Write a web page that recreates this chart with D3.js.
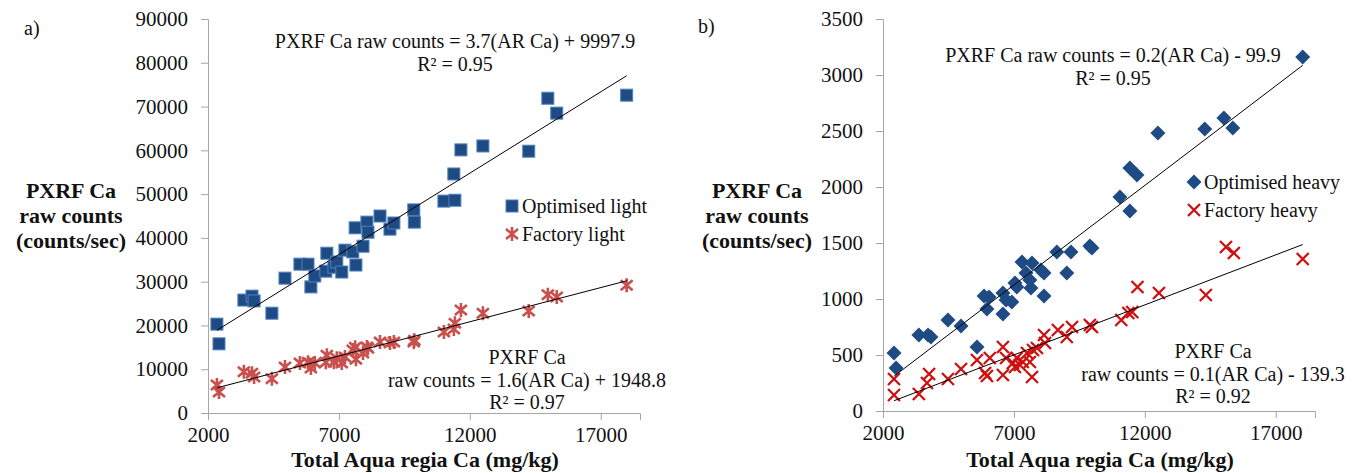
<!DOCTYPE html>
<html>
<head>
<meta charset="utf-8">
<script src="https://cdn.jsdelivr.net/npm/d3@7"></script>
<style>
  body { margin: 0; background: #fff; }
  svg text { font-family: "Liberation Serif", "Times New Roman", serif; fill: #111; }
</style>
</head>
<body>
<div id="chart"></div>
<script>
// panel a - light mode, same soil samples for both series
var arCaLight = [2340, 2420, 3370, 3680, 3760, 4440, 4940, 5510, 5820, 5930, 6080, 6540, 6500, 6810, 6920,
    7110, 7230, 7530, 7650, 7920, 7620, 8070, 8110, 8570, 8950, 9100, 9860, 9880, 11010, 11430, 11390,
    11660, 12500, 14250, 14980, 15320, 17990];
var optLight = [20300, 15800, 25800, 26700, 25600, 22800, 30800, 34000, 34000, 28800, 31300, 36500, 32400, 33300, 34500,
    32200, 37200, 36800, 33800, 38100, 42300, 43600, 41300, 45000, 42000, 43400, 46400, 43600, 48400, 48600, 54600,
    60100, 61000, 59800, 71900, 68500, 72600];
var facLight = [6400, 4800, 9400, 9100, 8200, 7800, 10500, 11400, 11600, 10300, 11400, 13200, 11600, 11600, 12500,
    11400, 12800, 14400, 12300, 13700, 15000, 15100, 14800, 16200, 16000, 16200, 16200, 16600, 18500, 20500, 19200,
    23500, 22800, 23300, 27000, 26500, 29200];

// panel b - heavy mode
var optHeavyX = [2420, 2500, 3370, 3720, 3830, 4480, 4980, 5590, 5860, 6050, 5970, 6580, 6580, 6700, 6920, 7040,
    7110, 7310, 7460, 7650, 7690, 7610, 8030, 8150, 8150, 8640, 9020, 9180, 9900, 9980, 11050, 11430, 11430,
    11700, 12500, 14290, 15020, 15360, 18030];
var optHeavyY = [518, 384, 679, 679, 661, 813, 759, 572, 1027, 1018, 911, 866, 1054, 991, 973, 1143,
    1107, 1330, 1232, 1098, 1321, 1170, 1259, 1232, 1027, 1420, 1232, 1420, 1473, 1455, 1911, 1786, 2170,
    2107, 2483, 2518, 2616, 2527, 3161];
var facHeavyX = [2420, 2420, 3370, 3760, 3680, 4480, 4980, 5590, 5900, 5970, 6080, 6580, 6580, 6700, 6960, 7040,
    7110, 7230, 7340, 7500, 7610, 7690, 7730, 7880, 8150, 8190, 8680, 9020, 9220, 9900, 9980, 11100, 11370,
    11520, 11720, 12540, 14330, 15100, 15400, 18030];
var facHeavyY = [286, 143, 152, 330, 250, 286, 375, 455, 339, 312, 473, 321, 571, 473, 428, 393,
    473, 411, 437, 518, 437, 304, 545, 562, 679, 607, 723, 661, 750, 768, 750, 813, 875,
    884, 1107, 1054, 1036, 1464, 1411, 1357];

var xTicks = [2000, 7000, 12000, 17000];
var yTicksA = d3.range(0, 90001, 10000);
var yTicksB = d3.range(0, 3501, 500);

var W = 1358, H = 473;
var svg = d3.select("#chart").append("svg")
    .attr("width", W)
    .attr("height", H);

var axisGrey = "#a6a6a6";
var serif = "'Liberation Serif', 'Times New Roman', serif";

function fit(xs, ys) {
    var mx = d3.mean(xs), my = d3.mean(ys);
    var sxy = 0, sxx = 0;
    xs.forEach(function(x, i){ sxy += (x - mx) * (ys[i] - my); sxx += (x - mx) * (x - mx); });
    var b = sxy / sxx;
    return { b: b, a: my - b * mx };
}

function panel(p) {
    var g = svg.append("g");
    var x = d3.scaleLinear().domain([2000, 18500]).range(p.xr);
    var y = d3.scaleLinear().domain(p.yd).range([p.y0, 19]);

    var xa = g.append("g")
        .attr("transform", "translate(0," + p.y0 + ")")
        .call(d3.axisBottom(x).tickValues(xTicks).tickFormat(d3.format("d")).tickSizeOuter(0).tickSize(7).tickPadding(7));
    var ya = g.append("g")
        .attr("transform", "translate(" + p.xr[0] + ",0)")
        .call(d3.axisLeft(y).tickValues(p.yt).tickFormat(d3.format("d")).tickSizeOuter(0).tickSize(7).tickPadding(13));
    [xa, ya].forEach(function(a){
        a.attr("font-family", serif).attr("font-size", 21);
        a.selectAll("path, line").attr("stroke", axisGrey);
        a.selectAll("text").attr("fill", "#111");
    });

    // markers
    p.series.forEach(function(s){
        var pts = s.xs.map(function(d, i){ return [d, s.ys[i]]; });
        var m = g.append("g").selectAll("g").data(pts).enter().append("g")
            .attr("transform", function(d){ return "translate(" + x(d[0]) + "," + y(d[1]) + ")"; });
        drawMarker(m, s.type);

        var f = fit(s.xs, s.ys);
        var x1 = d3.min(s.xs), x2 = d3.max(s.xs);
        g.append("line")
            .attr("x1", x(x1)).attr("y1", y(f.a + f.b * x1))
            .attr("x2", x(x2)).attr("y2", y(f.a + f.b * x2))
            .attr("stroke", "#000").attr("stroke-width", 1);

        s.eq.forEach(function(t, i){
            g.append("text")
                .attr("x", s.eqPos[0]).attr("y", s.eqPos[1] + i * 22.5)
                .attr("text-anchor", "middle")
                .style("font-size", "20px")
                .text(t);
        });
    });

    // legend
    p.series.forEach(function(s, i){
        var lg = g.append("g").attr("transform", "translate(" + p.leg[0] + "," + (p.leg[1] + i * 28) + ")");
        drawMarker(lg, s.type);
        lg.append("text").attr("x", 10).attr("y", 7).style("font-size", "20px").text(s.name);
    });

    // axis titles
    g.append("text")
        .attr("x", p.xTitle).attr("y", 467)
        .attr("text-anchor", "middle")
        .style("font-size", "22px").style("font-weight", "bold")
        .text("Total Aqua regia Ca (mg/kg)");
    ["PXRF Ca", "raw counts", "(counts/sec)"].forEach(function(t, i){
        g.append("text")
            .attr("x", p.yTitle).attr("y", 198 + i * 25)
            .attr("text-anchor", "middle")
            .style("font-size", "22px").style("font-weight", "bold")
            .text(t);
    });
    g.append("text").attr("x", p.lab[0]).attr("y", p.lab[1]).style("font-size", "20px").text(p.label);
}

function drawMarker(sel, type) {
    if (type === "square") {
        sel.append("rect").attr("x", -6).attr("y", -6).attr("width", 12).attr("height", 12)
            .attr("fill", "#1f4b84").attr("stroke", "#4f81bd").attr("stroke-width", 1);
    } else if (type === "star") {
        sel.append("path")
            .attr("d", "M-6,-5L6,5M-6,5L6,-5M0,-7L0,7")
            .attr("stroke", "#c9504d").attr("stroke-width", 2.6).attr("fill", "none");
    } else if (type === "diamond") {
        sel.append("path").attr("d", "M0,-7.5L7.5,0L0,7.5L-7.5,0Z").attr("fill", "#1f4b84");
    } else {
        sel.append("path")
            .attr("d", "M-6,-6L6,6M-6,6L6,-6")
            .attr("stroke", "#d01010").attr("stroke-width", 2.3).attr("fill", "none");
    }
}

panel({
    xr: [208, 640], y0: 413, yd: [0, 90000], yt: yTicksA,
    xTitle: 425, yTitle: 71, label: "a)", lab: [24, 35], leg: [512, 206],
    series: [
        { name: "Optimised light", type: "square", xs: arCaLight, ys: optLight,
          eq: ["PXRF Ca raw counts = 3.7(AR Ca) + 9997.9", "R\u00b2 = 0.95"], eqPos: [455, 48] },
        { name: "Factory light", type: "star", xs: arCaLight, ys: facLight,
          eq: ["PXRF Ca", "raw counts = 1.6(AR Ca) + 1948.8", "R\u00b2 = 0.97"], eqPos: [527, 364] }
    ]
});

panel({
    xr: [883, 1315], y0: 411, yd: [0, 3500], yt: yTicksB,
    xTitle: 1100, yTitle: 757, label: "b)", lab: [698, 33], leg: [1194, 182],
    series: [
        { name: "Optimised heavy", type: "diamond", xs: optHeavyX, ys: optHeavyY,
          eq: ["PXRF Ca raw counts = 0.2(AR Ca) - 99.9", "R\u00b2 = 0.95"], eqPos: [1113, 62] },
        { name: "Factory heavy", type: "cross", xs: facHeavyX, ys: facHeavyY,
          eq: ["PXRF Ca", "raw counts = 0.1(AR Ca) - 139.3", "R\u00b2 = 0.92"], eqPos: [1213, 358] }
    ]
});
</script>
</body>
</html>
